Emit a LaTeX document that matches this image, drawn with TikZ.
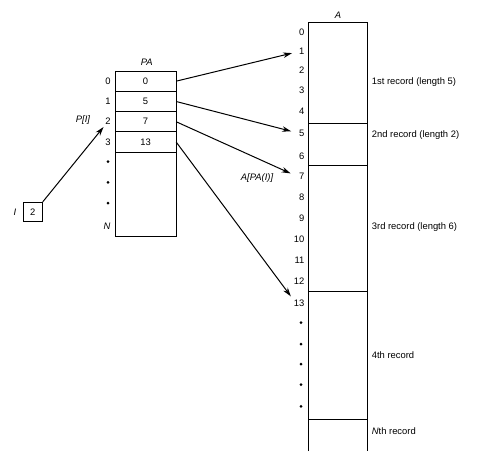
\documentclass[tikz,border=0pt]{standalone}
\usepackage{fontspec}
\setmainfont{Liberation Sans}
\usetikzlibrary{arrows.meta}
\begin{document}
\begin{tikzpicture}[x=1pt,y=-1pt, font=\fontsize{9.4}{10}\selectfont,
 idx/.style={inner sep=1pt, anchor=east},
 pidx/.style={inner sep=1pt},
 cell/.style={minimum width=61pt, minimum height=20.3pt, inner sep=0pt},
 ptr/.style={line width=1pt, -{Stealth[length=9pt,width=5.5pt]}},
 rec/.style={anchor=west, inner sep=0pt},
 dotn/.style={circle, fill, inner sep=0pt, minimum size=3pt},
 boxline/.style={line width=0.9pt}]
\useasboundingbox (0,0) rectangle (478,451);

% PA array
\node at (146.7,62.7) {\itshape PA};
\draw[boxline] (115,71) rectangle (176,236.7);
\foreach \yy in {91.3,111.7,131.8,152.3}
  \draw[boxline] (115,\yy) -- (176,\yy);
\node[cell] (r0) at (145.5,81.15) {0};
\node[cell] (r1) at (145.5,101.5) {5};
\node[cell] (r2) at (145.5,121.75) {7};
\node[cell] (r3) at (145.5,142.05) {13};

\node[pidx] (p0) at (108,81) {0};
\node[pidx] (p1) at (108,101.7) {1};
\node[pidx] (p2) at (108,121.7) {2};
\node[pidx] (p3) at (108,142) {3};
\node[dotn] (pd1) at (108,161.7) {};
\node[dotn] (pd2) at (108,182.3) {};
\node[dotn] (pd3) at (108,203) {};
\node[pidx] (pN) at (107,226.7) {\itshape N};

% I box
\node[draw, line width=0.9pt, minimum width=19pt, minimum height=19.4pt, inner sep=0pt] (ibox) at (32.8,212) {2};
\node (ilab) at (15,212) {\itshape I};
\node (plab) at (83,120) {\itshape P[I]};
\draw[ptr, shorten >=1pt] (ibox.north east) -- (p2.south west);

% A array
\node (alab) at (338,15.7) {\itshape A};
\draw[boxline] (308.3,451) -- (308.3,22.3) -- (367.3,22.3) -- (367.3,451);
\foreach \yy in {123.3,165,291.7,419}
  \draw[boxline] (308.3,\yy) -- (367.3,\yy);

\foreach \k/\yy in {0/32.3,1/51.7,2/70.5,3/90.7,4/111.7,5/133,6/156,7/176.7,8/197,9/218.5,10/239.3,11/260,12/281,13/303.3}
  \node[idx] (a\k) at (305.5,\yy) {\k};
\foreach \i/\yy in {1/322.7,2/344,3/364,4/384.7,5/406.3}
  \node[dotn] (ad\i) at (301,\yy) {};

\node[rec] (rec1) at (371.7,81.7) {1st record (length 5)};
\node[rec] (rec2) at (371.7,135) {2nd record (length 2)};
\node[rec] (rec3) at (371.7,226.7) {3rd record (length 6)};
\node[rec] (rec4) at (371.7,355) {4th record};
\node[rec] (recN) at (371.7,430.7) {{\itshape N}th record};

% pointers
\draw[ptr, shorten >=6pt] (r0.east) -- (a1.west);
\draw[ptr, shorten >=7pt] (r1.east) -- (a5.west);
\draw[ptr, shorten >=8pt] (r2.east) -- (a7.west);
\draw[ptr, shorten >=3pt] (r3.east) -- (a13.north west);
\node (apa) at (257,178) {\itshape A[PA(I)]};
\end{tikzpicture}
\end{document}
